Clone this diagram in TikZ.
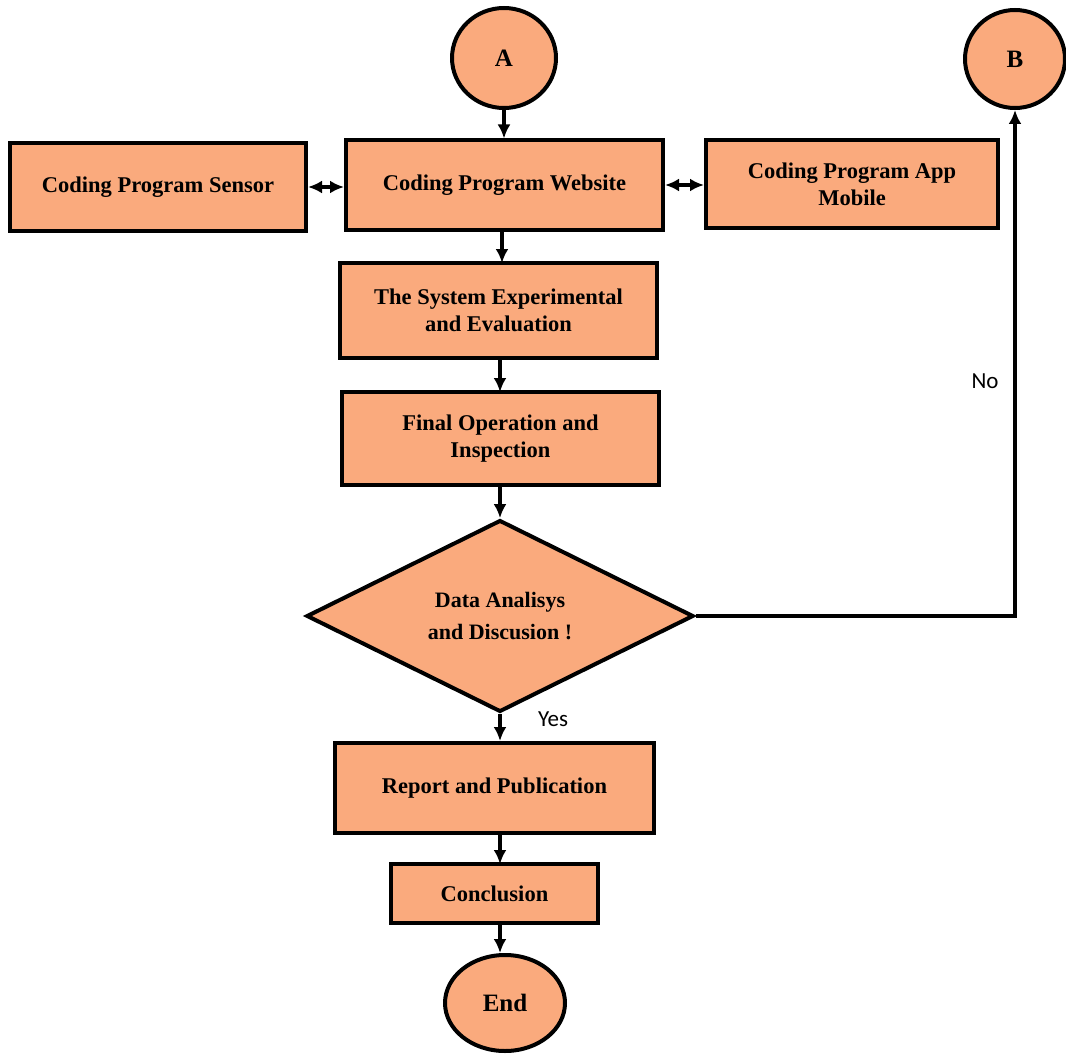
\documentclass[tikz,border=0pt]{standalone}
\usepackage{fontspec}
\setmainfont{Liberation Serif}
\newfontfamily\lblfont{Carlito}
\usetikzlibrary{shapes.geometric,arrows.meta}
\definecolor{boxfill}{RGB}{250,170,125}
\tikzset{
  stepbox/.style={draw=black, line width=4pt, fill=boxfill, rectangle, inner sep=0pt, align=center, font=\fontsize{22.5}{27}\selectfont\bfseries},
  term/.style={draw=black, line width=4pt, fill=boxfill, ellipse, inner sep=0pt, font=\fontsize{25}{29}\selectfont\bfseries},
  decis/.style={draw=black, line width=4pt, fill=boxfill, diamond, inner sep=0pt, align=center, font=\fontsize{22}{32}\selectfont\bfseries},
  arr/.style={line width=3.2pt, -{Latex[length=14pt,width=13pt]}},
  dbl/.style={line width=3.2pt, {Latex[length=14pt,width=13pt]}-{Latex[length=14pt,width=13pt]}},
  lbl/.style={font=\lblfont\fontsize{23}{27}\selectfont}
}
\begin{document}
\begin{tikzpicture}[x=1pt,y=-1pt]
\useasboundingbox (0,0) rectangle (1066,1054);
\node[term, minimum width=104pt, minimum height=100pt] (A) at (504,58) {A};
\node[term, minimum width=100pt, minimum height=98pt] (B) at (1015,59) {B};
\node[stepbox, minimum width=296pt, minimum height=88pt] (sens) at (158,187) {Coding Program Sensor};
\node[stepbox, minimum width=317pt, minimum height=89pt] (web) at (504.5,185) {Coding Program Website};
\node[stepbox, minimum width=292pt, minimum height=87pt] (app) at (852,184) {Coding Program App\\Mobile};
\node[stepbox, minimum width=317pt, minimum height=95pt] (sys) at (498.5,310.5) {The System Experimental\\and Evaluation};
\node[stepbox, minimum width=317pt, minimum height=93pt] (fin) at (500.5,438.5) {Final Operation and\\Inspection};
\node[decis, minimum width=387pt, minimum height=186pt] (dia) at (500,616) {Data Analisys\\and Discusion !};
\node[stepbox, minimum width=319pt, minimum height=90pt] (rep) at (494.5,788) {Report and Publication};
\node[stepbox, minimum width=207pt, minimum height=59pt] (con) at (494.5,893.5) {Conclusion};
\node[term, minimum width=120pt, minimum height=96pt] (end) at (505,1003) {End};
\coordinate (corner) at (1015,616);
\draw[arr] (A.south) -- (A.south |- web.north);
\draw[dbl] (sens.east) -- (sens.east -| web.west);
\draw[dbl] (web.east) -- (web.east -| app.west);
\draw[arr] (502,229.5) -- (502,263);
\draw[arr] (500,358) -- (500,392);
\draw[arr] (dia.north |- fin.south) -- (dia.north);
\draw[arr] (dia.east) -- (corner) -- (B.south);
\draw[arr] (dia.south) -- (dia.south |- rep.north);
\draw[arr] (500,833) -- (500,864);
\draw[arr] (500,923) -- (end.north -| 500,0);
\node[lbl] (no) at (985,381) {No};
\node[lbl] (yes) at (553,719) {Yes};
\end{tikzpicture}
\end{document}
